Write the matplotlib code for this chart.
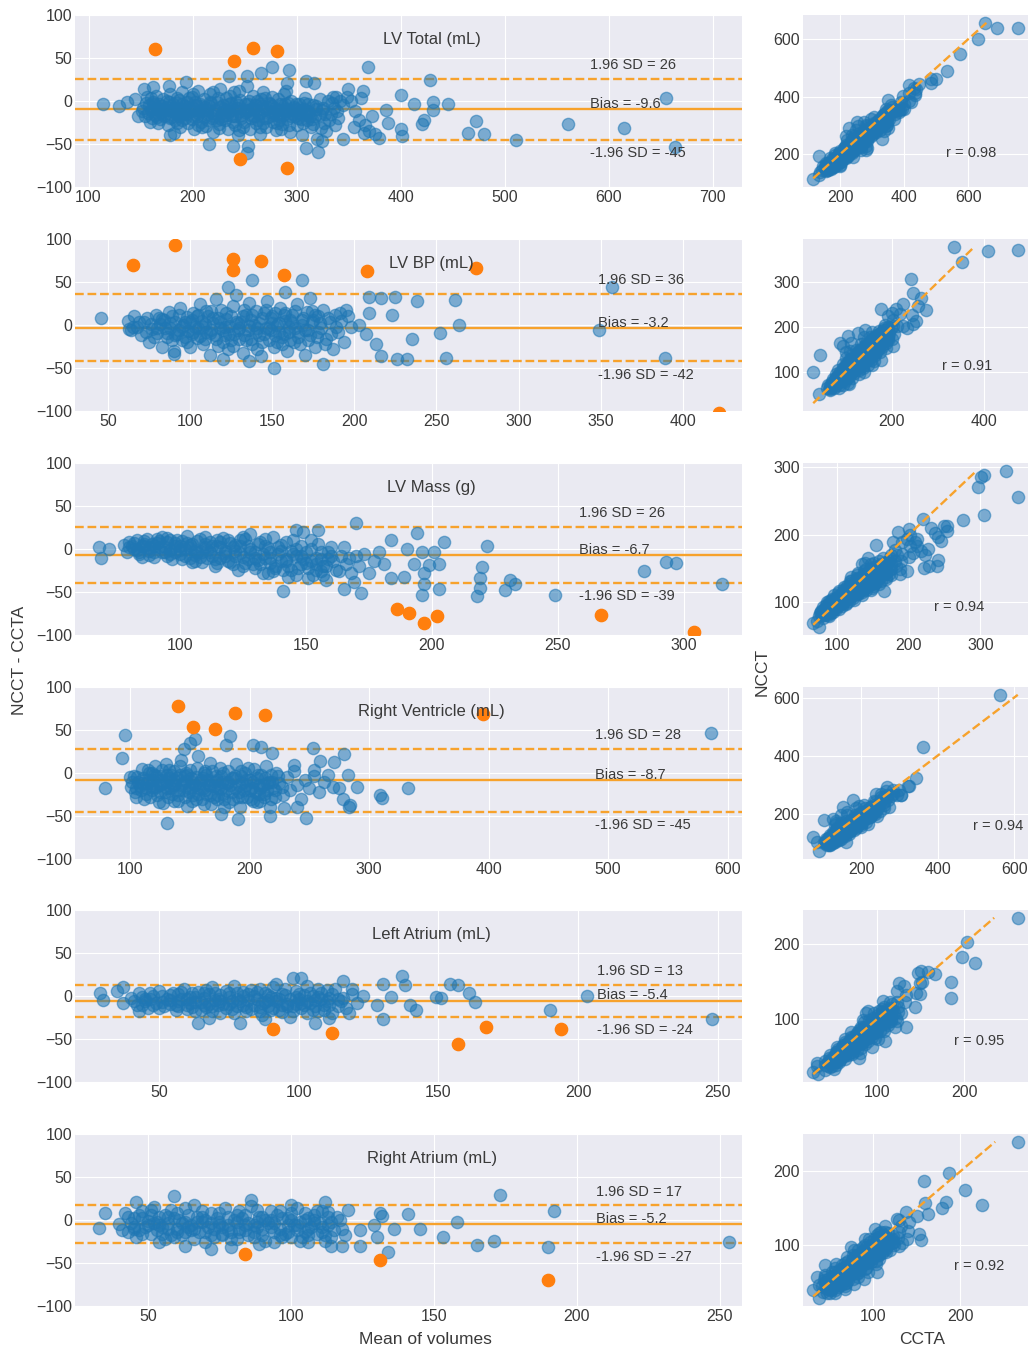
import numpy as np
import matplotlib
matplotlib.use('Agg')
import matplotlib.pyplot as plt

plt.style.use('seaborn-v0_8-darkgrid')
plt.rcParams['font.family'] = ['Liberation Sans', 'DejaVu Sans']

# ---- data: (mean of volumes, NCCT - CCTA) ----
titles = ['LV Total (mL)', 'LV BP (mL)', 'LV Mass (g)', 'Right Ventricle (mL)',
          'Left Atrium (mL)', 'Right Atrium (mL)']
bias = [-9.6, -3.2, -6.7, -8.7, -5.4, -5.2]
sd_hi = [26, 36, 26, 28, 13, 17]
sd_lo = [-45, -42, -39, -45, -24, -27]
r_vals = [0.98, 0.91, 0.94, 0.94, 0.95, 0.92]

lvt_pts = [(152,-8),(155,-2),(157,-14),(160,3),(161,-20),(163,-9),(165,6),(167,-25),(168,-4),(170,-13),
           (172,2),(173,-18),(175,-7),(176,-28),(178,8),(180,-12),(181,-3),(183,-22),(185,4),(186,-10),(188,-30),(189,-16),
           (190,10),(192,-6),(193,-20),(195,-1),(196,-26),(198,-12),(199,5),(201,-33),(202,-9),(204,-17),(205,12),(207,-3),(208,-24),(210,-11),
           (211,2),(213,-29),(214,-15),(216,-6),(217,8),(219,-20),(220,-36),(222,-10),(223,-1),(225,-27),(226,14),(228,-14),(229,-5),
           (231,-22),(232,4),(234,-33),(235,-12),(237,-2),(238,-18),(240,10),(241,-28),(243,-8),(244,-40),(246,1),(247,-16),(249,-24),
           (250,-4),(252,18),(253,-12),(255,-32),(256,-20),(258,6),(259,-9),(261,-26),(262,0),(264,-15),(265,-38),(267,-6),(268,11),(270,-20),
           (271,-30),(273,-2),(274,-13),(276,5),(277,-24),(279,-8),(280,-34),(282,2),(283,-17),(285,-10),(286,-27),(288,8),(289,-4),
           (291,-21),(292,-12),(294,-36),(295,0),(297,-7),(298,-18),(300,-28),(302,-3),(303,-14),(305,-40),(307,-9),(308,3),(310,-22),
           (312,-13),(314,-30),(316,-5),(318,-18),(320,-44),(322,2),(324,-10),(326,-25),(328,-35),(330,0),(333,-15),(336,-8),(338,5),(340,-20),
           (345,-5),(348,5),(352,0),(356,-12),(360,-22),(362,3),(366,-28),(372,-17),(375,-38),
           (151,-12),(154,-18),(156,5),(158,-5),(159,-24),(162,-1),(164,-16),(166,-8),(169,-21),(171,-6),(174,-11),(177,-1),
           (179,-19),(182,-8),(184,-15),(187,1),(190,-22),(191,-9),(194,-15),(197,3),(200,-18),(203,-5),(206,-12),(209,-30),
           (212,-7),(215,-22),(218,-2),(221,-17),(224,4),(227,-21),(230,-9),(233,-16),(236,6),(239,-24),(242,-1),(245,-12),
           (248,-30),(251,-10),(254,0),(257,-17),(260,-5),(263,-22),(266,2),(269,-11),(272,-19),(275,-6),(278,-14),(281,-25),
           (284,-3),(287,-16),(290,-9),(293,-28),(296,-14),(299,-4),(301,-20),(304,-10),(306,-26),(309,-16),(311,-4),(315,-21),
           (319,-9),(323,-31),(327,-15),(331,-22),(334,-2),(337,-28),(339,-12),
           (114,-3),(129,-6),(137,-1),(145,2),(148,-17),(153,14),(162,16),(177,18),(178,-40),(182,-37),(194,22),(216,-50),
           (235,29),(239,-52),(252,29),(253,-52),(252,-60),(266,32),(276,40),(293,36),(291,21),(309,23),(317,21),
           (309,-55),(321,-59),(324,-47),(345,-44),(349,14),(364,12),(355,-30),(365,-37),(370,-35),(369,40),(335,5),(342,0),
           (428,24),(445,-4),(431,-1),(400,7),(413,-4),(386,-10),(388,-25),(379,-43),(400,-32),(401,-41),(420,-27),(422,-22),
           (431,-10),(465,-37),(472,-23),(480,-38),(511,-45),(561,-27),(615,-31),(655,3),(664,-53)]
lvt_dense = [(160,-10),(163,-3),(166,-19),(169,-9),(172,-15),(175,0),(178,-20),(181,-10),(184,-2),(187,-17),(190,-4),
             (193,-12),(196,-7),(199,-21),(202,-1),(205,-14),(208,-6),(211,-19),(214,-10),(217,-1),(220,-14),(223,-22),
             (226,-7),(229,-17),(232,-11),(235,-3),(238,-9),(241,-17),(244,-5),(247,-20),(250,-13),(253,-3),(256,-9),
             (259,-18),(262,-11),(265,-3),(268,-25),(271,-9),(274,-4),(277,-16),(280,-10),(283,-22),(286,-5),(289,-13),
             (292,-2),(295,-18),(298,-9),(301,-13),(304,-21),(307,-2),(310,-12),(313,-17),(316,-27),(319,-6),(322,-16),
             (325,-8),(185,-26),(205,-28),(225,-31),(245,-34),(265,-30),(285,-33),(200,8),(220,10),(245,12),(270,3),(290,12)]
lvt_out = [(164,60),(240,47),(258,62),(281,58),(246,-67),(291,-78),(697,-115)]

lvbp_pts = [(62,5),(64,-6),(66,10),(68,-2),(70,-12),(72,3),(74,8),(75,-20),(77,-5),(79,12),(80,-9),(82,1),(83,-25),(84,6),
            (86,-14),(87,15),(88,-3),(90,-30),(91,4),(92,-10),(94,20),(95,-18),(96,0),(98,9),(99,-7),(100,-26),(102,14),
            (103,-2),(104,-15),(106,25),(107,5),(108,-22),(110,-8),(111,11),(112,-35),(114,2),(115,-12),(116,30),(118,-4),
            (119,18),(120,-20),(122,7),(123,-28),(124,-1),(126,22),(127,-10),(128,35),(130,-16),(131,4),(132,-32),(134,12),
            (135,-6),(136,26),(138,-22),(139,0),(140,16),(142,-12),(143,-36),(144,8),(146,-3),(147,28),(148,-18),(150,2),
            (151,-26),(152,14),(154,-8),(155,20),(156,-14),(158,5),(159,-30),(160,-2),(162,12),(163,-20),(165,24),(166,-8),
            (168,0),(170,-35),(171,15),(173,-12),(175,6),(176,-25),(178,10),(180,-4),(181,18),(183,-16),(185,3),(187,-28),
            (188,12),(190,-8),(192,5),(194,-20),(196,10),(198,-2),
            (65,-2),(69,4),(73,-8),(76,1),(78,-14),(81,8),(85,-4),(89,-18),(89,10),(93,-6),(97,3),(97,-14),(101,-10),(101,6),
            (105,-4),(105,12),(109,-16),(109,1),(113,-6),(113,16),(117,-24),(117,8),(121,-2),(121,-12),(125,10),(125,-18),
            (129,2),(129,-6),(133,-12),(133,18),(137,-16),(137,6),(141,-4),(141,-28),(145,14),(145,-10),(149,-6),(149,8),
            (153,-20),(153,0),(157,-10),(157,12),(161,-18),(161,6),(164,-4),(167,-22),(169,8),(172,-6),(174,16),(177,-14),
            (179,2),(182,-22),(184,8),(186,-10),(189,-2),(191,14),
            (46,8),(63,-5),(90,-34),(120,-40),(123,44),(136,-42),(138,52),(151,-50),(158,38),(168,52),(173,31),(181,-45),
            (195,18),(203,0),(207,-10),(209,32),(209,14),(213,-22),(216,31),(216,-36),(223,12),(225,32),(226,-39),
            (232,-39),(235,-16),(238,28),(252,-9),(256,-38),(261,29),(264,0),(349,-6),(357,44),(389,-38)]
lvbp_dense = [(80,-4),(83,7),(86,-9),(88,2),(91,-12),(93,12),(95,-2),(98,-20),(100,4),(102,-8),(104,10),(106,-13),
              (108,-2),(110,16),(112,-9),(114,8),(116,-16),(118,4),(120,-6),(122,14),(124,-10),(126,-24),(128,4),(130,-4),
              (132,10),(134,-18),(136,-1),(138,12),(140,-8),(142,2),(144,-20),(146,18),(148,-4),(150,10),(152,-12),(154,2),
              (156,-22),(158,14),(160,-8),(162,2),(164,16),(166,-14),(168,6),(170,-6),(172,-18),(174,4),(176,12),(178,-8)]
lvbp_out = [(65,70),(91,93),(126,77),(126,64),(143,75),(157,58),(208,63),(274,66),(422,-102)]

lvm_pts = [(78,5),(79,-3),(80,8),(82,0),(83,10),(84,-6),(85,4),(87,12),(88,-2),(89,6),(90,-9),(92,2),(93,14),(94,-4),
           (95,8),(97,-12),(98,3),(99,11),(100,-6),(102,0),(103,15),(104,-10),(105,6),(107,-3),(108,12),(109,-15),(110,2),
           (112,8),(113,-8),(114,-20),(115,4),(117,13),(118,-5),(119,-14),(120,7),(122,-2),(123,-24),(124,10),(125,-9),
           (127,3),(128,18),(129,-17),(130,-4),(132,8),(133,-28),(134,-11),(135,1),(137,14),(138,-20),(139,-6),(140,5),
           (142,-14),(143,-32),(144,-2),(145,10),(147,-22),(148,-8),(149,20),(150,-16),(152,0),(153,-30),(154,-10),(155,6),
           (157,-20),(158,-36),(159,-4),(161,-14),(163,-26),(165,2),(167,-10),(169,-38),(171,-20),(173,-6),(175,-28),
           (177,-14),(179,-4),(181,-18),
           (86,3),(91,7),(96,-1),(101,9),(106,-7),(111,-1),(116,-11),(121,2),(126,12),(131,-13),(136,-16),(141,-25),
           (146,0),(151,-34),(156,-26),
           (81,4),(83,-1),(86,9),(88,-7),(90,3),(91,12),(93,-3),(95,-8),(96,10),(98,-4),(100,4),(101,-12),(103,7),(104,1),
           (106,-14),(107,9),(109,-4),(110,14),(111,-10),(113,4),(115,-16),(116,8),(118,-2),(119,10),(121,-18),(122,-8),
           (124,4),(125,14),(127,-12),(128,-3),(130,-22),(131,6),(133,-6),(134,12),(136,-4),(137,-26),(139,2),(140,-14),
           (142,8),(143,-20),(145,-6),(146,-30),(148,4),(149,-12),(151,-22),(152,10),(154,-18),(156,-4),(157,-30),
           (159,-12),(160,2),(162,-24),(164,-8),(166,-18),(168,-28),(170,-8),
           (68,2),(69,-11),(72,0),(141,-49),(146,22),(155,22),(165,-47),(172,-51),(170,30),(184,11),(184,-34),(189,-33),
           (190,0),(194,19),(193,-18),(196,-4),(201,-3),(199,-19),(203,-18),(197,-28),(197,-41),(196,-53),(203,-47),
           (205,8),(220,-21),(219,-34),(219,-45),(218,-55),(222,3),(229,-48),(231,-36),(233,-41),(249,-53),(284,-26),
           (293,-15),(297,-16),(315,-41)]
lvm_dense = [(80,2),(82,7),(84,-3),(86,6),(88,1),(90,-4),(92,9),(94,2),(96,-6),(98,7),(100,-1),(102,-8),(104,5),(106,-2),
             (108,-9),(110,6),(112,-4),(114,-12),(116,2),(118,-8),(120,-15),(122,5),(124,-5),(126,-16),(128,0),(130,-10),
             (132,-18),(134,3),(136,-10),(138,-22),(140,-2),(142,-12),(144,-24),(146,-8),(148,-18),(150,-4),(152,-14),
             (154,-24),(156,-12),(158,-20),(160,-8),(85,-9),(95,13),(105,-15),(115,10),(125,-20),(135,-28)]
lvm_out = [(186,-70),(191,-75),(197,-86),(202,-78),(267,-77),(304,-96)]

rv_pts = [(102,-10),(104,-22),(106,-5),(108,-15),(110,5),(112,-30),(114,-12),(116,0),(118,-20),(119,-8),(121,8),
          (123,-26),(125,-14),(126,-3),(128,-35),(130,10),(131,-18),(133,-6),(135,-24),(137,2),(138,-13),(140,-32),
          (142,-2),(143,15),(145,-20),(147,-9),(148,-38),(150,4),(152,-16),(153,-26),(155,-5),(157,20),(158,-12),
          (160,-30),(162,0),(163,-20),(165,-8),(167,12),(168,-36),(170,-15),(172,-3),(174,-25),(175,6),(177,-10),
          (179,-40),(180,-20),(182,2),(184,-14),(186,-30),(187,-6),(189,10),(191,-22),(192,-40),(194,-12),(196,0),
          (198,-28),(200,-8),(202,-18),(204,5),(206,-34),(208,-14),(210,-2),(212,-24),(214,8),(216,-10),(218,-30),
          (220,-18),(222,0),(225,-12),(228,-26),(231,-5),(234,-20),(237,2),(240,-14),(243,-30),(246,-8),(250,-18),
          (254,-4),(258,-22),(262,-10),(266,-2),(270,-16),
          (101,-16),(103,-4),(105,-28),(107,-10),(109,-20),(111,-6),(113,-18),(115,4),(117,-28),(118,-12),(120,-2),
          (122,-16),(124,-34),(126,-8),(127,4),(129,-22),(131,-10),(132,-28),(134,-2),(136,-14),(137,-32),(139,-6),
          (141,-20),(142,8),(144,-12),(146,-28),(147,0),(149,-18),(151,-6),(152,-32),(154,-14),(156,6),(157,-24),
          (159,-8),(161,-18),(162,-36),(164,-2),(166,-14),(167,-26),(169,2),(171,-10),(173,-30),(174,-18),(176,-4),
          (178,-24),(181,-12),(183,-34),(185,-6),(188,-18),(190,-28),(193,-4),(195,-20),(197,-14),(199,6),(201,-30),
          (203,-10),(205,-22),(207,-2),(209,-32),(211,-14),(213,-6),(215,-20),(217,-40),(219,-10),(221,-28),(224,-4),
          (227,-16),
          (79,-18),(93,17),(96,44),(100,-5),(131,-58),(145,28),(150,35),(154,40),(176,-48),(180,33),(184,43),
          (190,-53),(203,32),(210,30),(217,-50),(219,23),(229,-41),(237,9),(240,-40),(247,-52),(253,29),(254,3),
          (259,14),(271,13),(275,-18),(278,-30),(279,22),(282,-2),(283,-39),(284,-37),(290,-16),(309,-26),
          (311,-29),(333,-18),(586,47)]
rv_dense = [(110,-12),(113,-24),(116,-8),(119,-16),(122,-4),(125,-22),(128,-12),(131,-2),(134,-18),(137,-8),(140,-26),
            (143,-14),(146,-4),(149,-22),(152,-10),(155,-30),(158,-18),(161,-6),(164,-24),(167,-14),(170,-28),(173,-8),
            (176,-18),(179,-30),(182,-10),(185,-22),(188,-4),(191,-14),(194,-28),(197,-8),(200,-20),(203,-32),(206,-6),
            (209,-18),(212,-28),(215,-12),(218,-2),(221,-20),(105,-18),(118,0),(133,4),(148,-2),(163,2),(178,0),
            (193,2),(208,-24)]
rv_out = [(140,78),(153,53),(171,51),(188,70),(213,68),(395,69)]

la_pts = [(40,-2),(42,-10),(43,4),(45,-6),(46,-14),(48,0),(49,-8),(50,6),(52,-12),(53,-3),(55,3),(56,-16),(57,-6),
          (59,8),(60,-10),(61,-1),(63,-18),(64,5),(65,-7),(67,-13),(68,2),(69,10),(71,-4),(72,-20),(73,-9),(75,3),
          (76,-15),(77,12),(79,-6),(80,0),(81,-18),(83,7),(84,-10),(85,-3),(87,-22),(88,4),(89,-12),(91,10),(92,-6),
          (93,-16),(95,1),(96,-9),(97,-24),(99,6),(100,-4),(101,-14),(103,12),(104,-8),(105,0),(107,-18),(108,4),
          (109,-10),(111,-2),(112,-20),(113,8),(115,-6),(117,-14),(119,2),(121,-8),
          (58,-3),(62,4),(66,-11),(70,-5),(74,6),(78,-12),(82,-5),(86,8),(90,-1),(94,-19),(98,-12),(102,1),(106,-5),(110,7),
          (41,-6),(44,-1),(44,-11),(47,-4),(47,3),(50,-14),(51,-7),(54,-9),(54,1),(57,-12),(58,5),(60,-4),(62,-13),(63,-1),
          (65,-16),(66,3),(68,-9),(69,-18),(70,4),(72,-6),(74,-14),(75,-1),(77,-20),(78,4),(80,-10),(82,2),(83,-15),(85,5),
          (86,-18),(88,-7),(89,1),(91,-14),(92,-2),(94,-10),(95,8),(97,-4),(98,-18),(100,2),(101,-8),(103,-20),(104,4),
          (106,-12),(107,8),(109,-16),(110,-6),(112,2),(114,-12),(116,-2),(118,-20),
          (29,3),(30,-5),(35,6),(37,-8),(37,10),(43,-17),(64,-31),(68,-25),(79,-31),(88,-27),(92,14),(98,21),(101,21),
          (106,-31),(111,-25),(116,17),(119,8),(123,0),(128,-10),(130,14),(130,-27),(133,-1),(137,23),(138,13),
          (140,-10),(142,-16),(149,-1),(151,-2),(154,14),(157,13),(161,4),(163,-7),(190,-16),(203,0),(248,-27)]
la_dense = [(45,-3),(48,-10),(51,0),(54,-5),(57,2),(60,-15),(63,-7),(66,-2),(69,-12),(72,1),(75,-9),(78,-3),(81,-13),
            (84,0),(87,-8),(90,-16),(93,-4),(96,-12),(99,-1),(102,-10),(105,-16),(108,-4),(111,-11),(114,-3),(56,-10),
            (67,7),(76,-6),(86,-13),(94,2),(103,-6),(61,-8),(71,-11),(80,5),(89,-5),(99,-9),(107,-1)]
la_out = [(91,-38),(112,-43),(157,-56),(167,-36),(194,-38)]

ra_pts = [(40,-5),(42,8),(43,-14),(45,2),(46,-20),(48,10),(49,-8),(50,-1),(52,15),(53,-12),(54,4),(56,-22),(57,-4),
          (58,12),(60,-10),(61,0),(62,-18),(64,6),(65,-6),(66,18),(68,-14),(69,-2),(70,-26),(72,8),(73,-10),(74,2),
          (76,-18),(77,14),(78,-6),(80,0),(81,-22),(82,10),(84,-12),(85,-3),(86,16),(88,-8),(89,4),(90,-18),(92,-4),
          (93,10),(94,-26),(96,-10),(97,2),(98,-16),(100,8),(101,-6),(102,14),(104,-20),(105,0),(106,-10),(108,6),
          (109,-16),(110,-4),(112,-24),(113,3),(115,-12),(117,0),(119,-18),
          (44,-4),(47,-12),(51,6),(55,-8),(59,2),(63,-14),(67,4),(71,-8),(75,-2),(79,-14),(83,2),(87,-20),(91,0),
          (95,6),(99,-14),(103,-2),(107,-8),(111,10),
          (41,-12),(43,4),(45,-8),(47,6),(48,-16),(50,-6),(51,12),(53,-2),(55,-16),(56,6),(57,-10),(59,-20),(60,8),
          (62,-4),(63,14),(65,-12),(66,-22),(67,-2),(69,10),(70,-14),(72,-4),(73,-20),(75,8),(76,-8),(78,4),(79,-22),
          (81,-2),(82,-14),(84,6),(85,-18),(87,-6),(88,12),(90,-10),(91,-24),(93,0),(94,-14),(96,10),(97,-20),(99,-6),
          (100,0),(102,-12),(103,-24),(105,8),(106,-18),(108,-4),(109,10),(111,-14),(113,-6),(114,-20),(116,4),(118,-10),
          (33,-9),(35,8),(46,21),(54,-26),(59,28),(63,-30),(72,-34),(79,-31),(86,23),(89,-28),(100,18),(106,-26),
          (112,21),(113,9),(114,-30),(118,-30),(120,12),(124,-12),(124,-30),(129,-6),(130,-20),(131,8),(132,5),
          (134,-37),(136,-10),(141,7),(145,-11),(153,-20),(158,-2),(165,-29),(171,-24),(173,29),(190,-31),
          (192,11),(253,-26)]
ra_dense = [(45,-10),(48,2),(51,-16),(54,-6),(57,4),(60,-14),(63,-2),(66,-10),(69,4),(72,-18),(75,-6),(78,-12),(81,6),
            (84,-6),(87,-14),(90,4),(93,-8),(96,-18),(99,2),(102,-6),(105,-14),(108,0),(111,-8),(114,-2),(52,-4),
            (58,-18),(64,-8),(70,0),(76,-16),(82,-10),(88,-2),(94,-4),(100,-20),(106,2),(112,-18)]
ra_out = [(84,-40),(131,-47),(190,-70)]

all_pts = [lvt_pts + lvt_dense, lvbp_pts + lvbp_dense, lvm_pts + lvm_dense,
           rv_pts + rv_dense, la_pts + la_dense, ra_pts + ra_dense]
all_out = [lvt_out, lvbp_out, lvm_out, rv_out, la_out, ra_out]

ba_xlim = [(87, 728), (30, 436), (58.5, 323), (54, 612), (20, 258.6), (24.5, 257.7)]
ba_xticks = [range(100, 701, 100), range(50, 401, 50), range(100, 301, 50),
             range(100, 601, 100), range(50, 251, 50), range(50, 251, 50)]
sc_xticks = [[200, 400, 600], [200, 400], [100, 200, 300], [200, 400, 600], [100, 200], [100, 200]]
sc_yticks = [[200, 400, 600], [100, 200, 300], [100, 200, 300], [200, 400, 600], [100, 200], [100, 200]]
sd_text_x = [0.772, 0.784, 0.756, 0.78, 0.783, 0.781]
r_pos = [(0.636, 0.2), (0.62, 0.26), (0.58, 0.16), (0.756, 0.19), (0.67, 0.24), (0.67, 0.23)]

W, H = 1031, 1348
fig = plt.figure(figsize=(W / 100, H / 100), dpi=100)
row_tops = [15, 239, 463, 687, 910, 1134]
row_h = 172

blue = '#1f77b4'
ora = '#ff7f0e'
line_c = '#f7a22c'
txt_c = '#3a3a3a'
msize = 78

for i in range(6):
    bottom = 1 - (row_tops[i] + row_h) / H
    ax = fig.add_axes([75 / W, bottom, 667 / W, row_h / H])
    sx = fig.add_axes([803 / W, bottom, 225 / W, row_h / H])

    pts = np.array(all_pts[i], dtype=float)
    out = np.array(all_out[i], dtype=float)
    m, d = pts[:, 0], pts[:, 1]
    mo, do = out[:, 0], out[:, 1]

    # Bland-Altman panel
    ax.scatter(m, d, s=msize, color=blue, alpha=0.55, zorder=3)
    ax.scatter(mo, do, s=msize, color=ora, alpha=1.0, zorder=3)
    ax.axhline(bias[i], color=line_c, lw=1.7, zorder=2)
    ax.axhline(sd_hi[i], color=line_c, lw=1.7, ls='--', zorder=2)
    ax.axhline(sd_lo[i], color=line_c, lw=1.7, ls='--', zorder=2)
    ax.set_ylim(-100, 100)
    ax.set_yticks([-100, -50, 0, 50, 100])
    ax.set_xlim(*ba_xlim[i])
    ax.set_xticks(list(ba_xticks[i]))
    ax.tick_params(labelsize=11.5, colors=txt_c, pad=2)
    ax.text(0.535, 0.86, titles[i], transform=ax.transAxes, ha='center', va='center',
            fontsize=12, color=txt_c)
    yt = ax.get_yaxis_transform()
    ax.text(sd_text_x[i], sd_hi[i] + 16, f'1.96 SD = {sd_hi[i]}', transform=yt,
            ha='left', va='center', fontsize=10.5, color=txt_c)
    ax.text(sd_text_x[i], bias[i] + 6, f'Bias = {bias[i]}', transform=yt,
            ha='left', va='center', fontsize=10.5, color=txt_c)
    ax.text(sd_text_x[i], sd_lo[i] - 16, f'-1.96 SD = {sd_lo[i]}', transform=yt,
            ha='left', va='center', fontsize=10.5, color=txt_c)

    # CCTA vs NCCT panel
    all_m = np.concatenate([m, mo])
    all_d = np.concatenate([d, do])
    ccta = all_m - all_d / 2
    ncct = all_m + all_d / 2
    sx.scatter(ccta, ncct, s=msize, color=blue, alpha=0.55, zorder=3)
    lo, hi = ccta.min(), ncct.max()
    sx.plot([lo, hi], [lo, hi], ls='--', color=line_c, lw=1.7, zorder=4)
    sx.set_xticks(sc_xticks[i])
    sx.set_yticks(sc_yticks[i])
    sx.tick_params(labelsize=11.5, colors=txt_c, pad=2)
    sx.text(r_pos[i][0], r_pos[i][1], f'r = {r_vals[i]}', transform=sx.transAxes,
            ha='left', va='center', fontsize=10.5, color=txt_c)

fig.text(20 / W, 1 - 660 / H, 'NCCT - CCTA', rotation=90, ha='center', va='center', fontsize=12.5, color=txt_c)
fig.text(762 / W, 1 - 672 / H, 'NCCT', rotation=90, ha='center', va='center', fontsize=12.5, color=txt_c)
fig.text(425 / W, 1 - 1340 / H, 'Mean of volumes', ha='center', va='center', fontsize=12.5, color=txt_c)
fig.text(922 / W, 1 - 1340 / H, 'CCTA', ha='center', va='center', fontsize=12.5, color=txt_c)

fig.savefig('out.png', dpi=100, facecolor='white')
